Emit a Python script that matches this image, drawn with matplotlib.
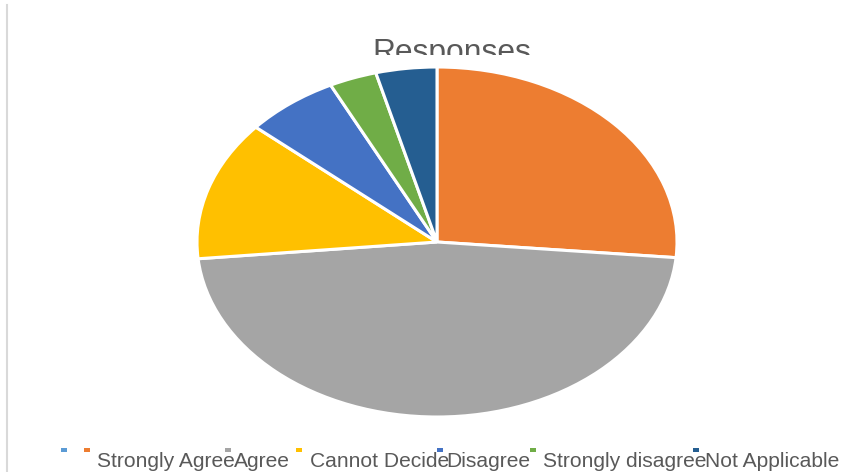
import matplotlib.pyplot as plt
from matplotlib import font_manager
from matplotlib.patches import Rectangle
from matplotlib.lines import Line2D

# Data (percent of responses)
categories = ['', 'Strongly Agree', 'Agree', 'Cannot Decide', 'Disagree',
              'Strongly disagree', 'Not Applicable']
responses = [0, 26.4, 47.0, 12.9, 6.3, 3.2, 4.1]
colors = ['#5B9BD5', '#ED7D31', '#A5A5A5', '#FFC000', '#4472C4',
          '#70AD47', '#255E91']

# Layout in pixels of the 857x472 picture
W, H = 857, 472
marker_x = [64, 87, 228, 299, 440, 533, 696]
label_x = [70, 97, 234, 310, 446, 543, 705]

names = {f.name for f in font_manager.fontManager.ttflist}
if 'Liberation Sans Narrow' in names:
    font = 'Liberation Sans Narrow'
    scale = 1.0
else:
    font = 'Liberation Sans'
    scale = 0.82
title_size = 27.9 * scale
legend_size = 18.4 * scale
text_color = '#595959'

fig = plt.figure(figsize=(W / 100, H / 100), dpi=100)

# chart-area border (only left edge visible)
fig.add_artist(Line2D([7.5 / W, 7.5 / W], [0, 1 - 5 / H],
                      transform=fig.transFigure, color='#D9D9D9', lw=1.5))

# Title sits behind the plot area, which hides its lower part
fig.text(452 / W, 1 - 61 / H, 'Responses', ha='center', va='baseline',
         fontsize=title_size, color=text_color, family=[font, 'DejaVu Sans'],
         zorder=0)
fig.add_artist(Rectangle((150 / W, 0.12), (730 - 150) / W, (H - 55) / H - 0.12,
                         transform=fig.transFigure, facecolor='white',
                         edgecolor='none', zorder=0.5))

ax = fig.add_axes([197 / W, 55 / H, 480 / W, 350 / H], zorder=1)
vals = [v for v in responses if v > 0]
cols = [c for v, c in zip(responses, colors) if v > 0]
ax.pie(vals, colors=cols, startangle=90, counterclock=False,
       wedgeprops=dict(edgecolor='white', linewidth=2.2))
ax.set_aspect('auto')
ax.set_xlim(-1, 1)
ax.set_ylim(-1, 1)
ax.axis('off')

# Legend along the bottom (overlapping entries like the original)
for cat, col, mx, tx in zip(categories, colors, marker_x, label_x):
    fig.add_artist(Rectangle(((mx - 3) / W, 1 - 452 / H), 6 / W, 4 / H,
                             transform=fig.transFigure, facecolor=col,
                             edgecolor='none'))
    if cat:
        fig.text(tx / W, 1 - 467 / H, cat, ha='left', va='baseline',
                 fontsize=legend_size, color=text_color,
                 family=[font, 'DejaVu Sans'])

plt.savefig('out.png', dpi=100)
